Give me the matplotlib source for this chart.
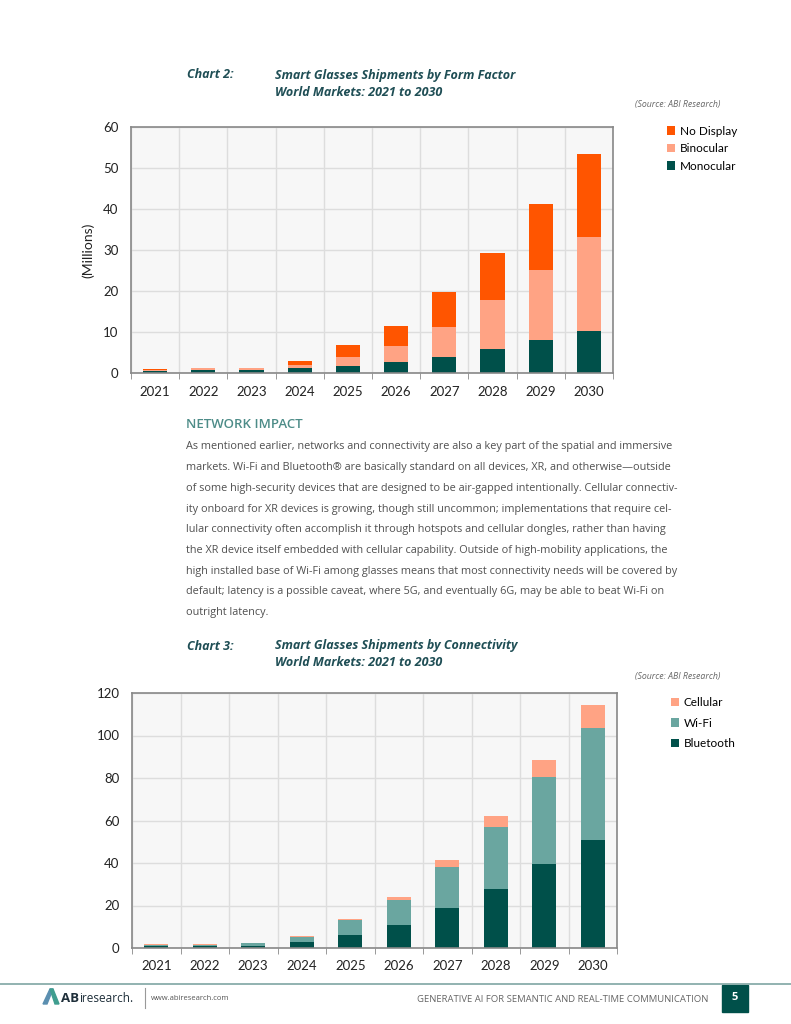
import matplotlib
matplotlib.use("Agg")
import matplotlib.pyplot as plt
import numpy as np
from matplotlib.patches import Rectangle, Polygon
from matplotlib.lines import Line2D

years = ["2021", "2022", "2023", "2024", "2025", "2026", "2027", "2028", "2029", "2030"]

# Chart 2: form factor (millions)
monocular = [0.6, 0.7, 0.7, 1.1, 1.7, 2.6, 3.9, 5.9, 8.0, 10.2]
binocular = [0.2, 0.4, 0.5, 0.9, 2.3, 4.1, 7.3, 12.0, 17.2, 23.0]
no_display = [0.1, 0.1, 0.1, 1.0, 2.9, 4.8, 8.6, 11.4, 16.1, 20.1]

# Chart 3: connectivity (millions)
bluetooth = [0.8, 0.8, 1.0, 2.8, 6.3, 11.0, 18.7, 27.9, 39.5, 50.8]
wifi = [0.6, 0.8, 1.2, 2.5, 6.7, 11.4, 19.4, 29.0, 40.8, 52.6]
cellular = [0.5, 0.4, 0.3, 0.5, 0.8, 1.8, 3.5, 5.4, 8.0, 11.0]

body_lines = [
    "As mentioned earlier, networks and connectivity are also a key part of the spatial and immersive",
    "markets. Wi-Fi and Bluetooth\u00ae are basically standard on all devices, XR, and otherwise\u2014outside",
    "of some high-security devices that are designed to be air-gapped intentionally. Cellular connectiv-",
    "ity onboard for XR devices is growing, though still uncommon; implementations that require cel-",
    "lular connectivity often accomplish it through hotspots and cellular dongles, rather than having",
    "the XR device itself embedded with cellular capability. Outside of high-mobility applications, the",
    "high installed base of Wi-Fi among glasses means that most connectivity needs will be covered by",
    "default; latency is a possible caveat, where 5G, and eventually 6G, may be able to beat Wi-Fi on",
    "outright latency.",
]

W, H = 791, 1024
DARK = "#00504A"
ORANGE = "#FF5500"
SALMON = "#FFA384"
TEAL = "#6AA6A0"
TITLE_C = "#1F4E55"
TXT = "#505050"

plt.rcParams['font.family'] = ['Open Sans', 'DejaVu Sans']
fig = plt.figure(figsize=(W / 100, H / 100), dpi=100)
fig.patch.set_facecolor("white")


def fx(x):
    return x / W


def fy(y):
    return 1 - y / H


def make_axes(left, top, right, bottom):
    return fig.add_axes([fx(left), fy(bottom), fx(right - left), (bottom - top) / H])


def style_axes(ax, ymax, ystep):
    x = np.arange(len(years))
    ax.set_facecolor("#F7F7F7")
    ax.set_xlim(-0.5, len(years) - 0.5)
    ax.set_ylim(0, ymax)
    ax.set_yticks(np.arange(0, ymax + 1, ystep))
    ax.set_xticks(x)
    ax.set_xticklabels(years, family=['Lato', 'DejaVu Sans'], fontsize=9.5, color="#222222")
    ax.set_xticks(np.arange(-0.5, len(years), 1.0), minor=True)
    ax.tick_params(axis='x', which='major', length=0, pad=9)
    ax.tick_params(axis='x', which='minor', length=4, direction='out', color="#888888")
    ax.tick_params(axis='y', length=0, pad=9, labelsize=9.5, labelcolor="#222222")
    for lab in ax.get_yticklabels():
        lab.set_family(['Lato', 'DejaVu Sans'])
    ax.grid(True, axis='y', which='major', color="#DDDDDD", linewidth=1)
    ax.grid(True, axis='x', which='minor', color="#DDDDDD", linewidth=1)
    ax.set_axisbelow(True)
    for s in ax.spines.values():
        s.set_color("#888888")
        s.set_linewidth(1.2)


# ---------- Chart 2 ----------
fig.text(fx(187), fy(75), "Chart 2:", fontsize=9, fontweight='bold', style='italic', color=TITLE_C, va='center')
fig.text(fx(275), fy(75), "Smart Glasses Shipments by Form Factor", fontsize=9, fontweight='bold', style='italic', color=TITLE_C, va='center')
fig.text(fx(275), fy(92), "World Markets: 2021 to 2030", fontsize=9, fontweight='bold', style='italic', color=TITLE_C, va='center')
fig.text(fx(720), fy(104), "(Source: ABI Research)", fontsize=6.3, style='italic', color="#666666", va='center', ha='right')

ax1 = make_axes(131, 127, 613, 373)
style_axes(ax1, 60, 10)
x = np.arange(len(years))
bw = 0.5
m = np.array(monocular)
b = np.array(binocular)
n = np.array(no_display)
h1 = ax1.bar(x, m, bw, color=DARK, linewidth=0, label="Monocular")
h2 = ax1.bar(x, b, bw, bottom=m, color=SALMON, linewidth=0, label="Binocular")
h3 = ax1.bar(x, n, bw, bottom=m + b, color=ORANGE, linewidth=0, label="No Display")
ax1.set_ylabel("(Millions)", family=['Lato', 'DejaVu Sans'], fontsize=10, color="#222222", labelpad=6)
leg1 = ax1.legend([h3, h2, h1], ["No Display", "Binocular", "Monocular"], loc='upper left',
                  bbox_to_anchor=((656 - 131) / (613 - 131), 1.049), frameon=False,
                  prop={'family': ['Lato', 'DejaVu Sans'], 'size': 8.5}, handlelength=0.7,
                  handleheight=0.7, handletextpad=0.4, labelspacing=0.55)

# ---------- Body text ----------
fig.text(fx(186), fy(424), "NETWORK IMPACT", fontsize=9.5, fontweight='semibold', color="#4D8C88", va='center')
y0 = 447
for i, line in enumerate(body_lines):
    fig.text(fx(186), fy(y0 + i * 20.7), line, fontsize=7.85, color=TXT, va='center')

# ---------- Chart 3 ----------
fig.text(fx(187), fy(646), "Chart 3:", fontsize=9, fontweight='bold', style='italic', color=TITLE_C, va='center')
fig.text(fx(275), fy(646), "Smart Glasses Shipments by Connectivity", fontsize=9, fontweight='bold', style='italic', color=TITLE_C, va='center')
fig.text(fx(275), fy(662), "World Markets: 2021 to 2030", fontsize=9, fontweight='bold', style='italic', color=TITLE_C, va='center')
fig.text(fx(720), fy(676), "(Source: ABI Research)", fontsize=6.3, style='italic', color="#666666", va='center', ha='right')

ax2 = make_axes(132, 693, 617, 948)
style_axes(ax2, 120, 20)
bt = np.array(bluetooth)
wf = np.array(wifi)
ce = np.array(cellular)
g1 = ax2.bar(x, bt, bw, color=DARK, linewidth=0)
g2 = ax2.bar(x, wf, bw, bottom=bt, color=TEAL, linewidth=0)
g3 = ax2.bar(x, ce, bw, bottom=bt + wf, color=SALMON, linewidth=0)
leg2 = ax2.legend([g3, g2, g1], ["Cellular", "Wi-Fi", "Bluetooth"], loc='upper left',
                  bbox_to_anchor=((660 - 132) / (617 - 132), 1.025), frameon=False,
                  prop={'family': ['Lato', 'DejaVu Sans'], 'size': 8.5}, handlelength=0.7,
                  handleheight=0.7, handletextpad=0.4, labelspacing=0.8)

# ---------- Footer ----------
fig.add_artist(Line2D([0, 1], [fy(984), fy(984)], color="#7FA6A3", linewidth=1.2))
fig.add_artist(Polygon([[fx(43), fy(1004)], [fx(50), fy(989)], [fx(53), fy(989)], [fx(47), fy(1004)]],
                       closed=True, color="#5B8FB0"))
fig.add_artist(Polygon([[fx(50), fy(989)], [fx(53), fy(989)], [fx(59), fy(1004)], [fx(55), fy(1004)]],
                       closed=True, color="#3F9E8F"))
fig.text(fx(61), fy(998), "AB", fontsize=9.5, fontweight='bold', color="#1F2F3A", va='center')
fig.text(fx(79), fy(998), "iresearch.", fontsize=8.5, color="#1F2F3A", va='center')
fig.add_artist(Line2D([fx(145), fx(145)], [fy(988), fy(1008)], color="#999999", linewidth=0.8))
fig.text(fx(151), fy(999), "www.abiresearch.com", fontsize=5.5, color="#555555", va='center')
fig.text(fx(708), fy(999), "GENERATIVE AI FOR SEMANTIC AND REAL-TIME COMMUNICATION", fontsize=6.8,
         color="#666666", va='center', ha='right')
fig.add_artist(Rectangle((fx(722), fy(1012)), fx(26), (1012 - 985) / H, color=DARK))
fig.text(fx(735), fy(998), "5", fontsize=8, fontweight='bold', color="white", va='center', ha='center')

fig.savefig("out.png", dpi=100)
